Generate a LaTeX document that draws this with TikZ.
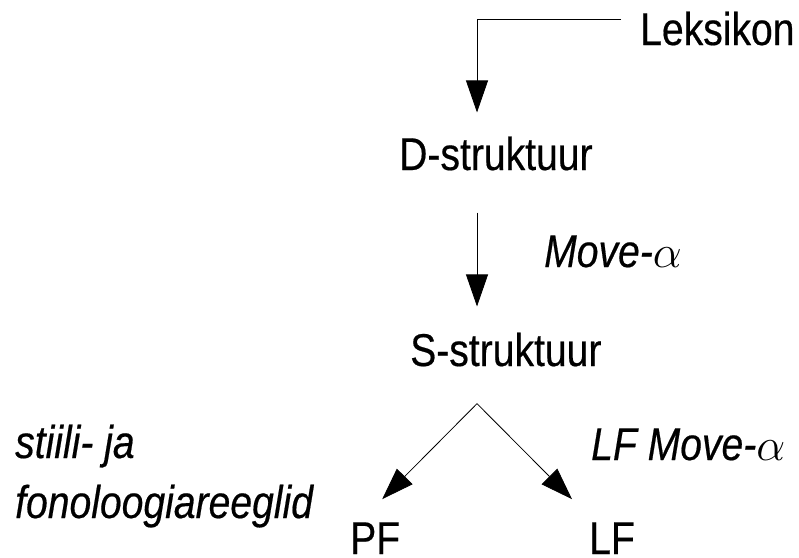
\RequirePackage{fix-cm}
\documentclass[tikz,border=0pt]{standalone}
\usepackage{fontspec}
\setmainfont{Liberation Sans}[FakeStretch=0.85,FakeBold=0.4]
\usepackage{tikz}
\usetikzlibrary{arrows.meta,calc,positioning}
\tikzset{%
	label/.style  = {inner sep=0pt, anchor=base west, font=\fontsize{46pt}{55pt}\selectfont}, % plain text
	rule/.style   = {label, font=\fontsize{46pt}{55pt}\selectfont\itshape}, % italic text
	arrow/.style  = {line width=0.8pt, -{Triangle[length=32pt,width=22pt]}},
}
\begin{document}
\begin{tikzpicture}[x=1pt,y=1pt]
	\useasboundingbox (0,0) rectangle (799,-557);
	\node [label] (lex)  at (640,-45)  {Leksikon};
	\node [label] (dstr) at (399,-170) {D-struktuur};
	\node [rule]  (mov)  at (544,-267) {Move-$\alpha$};
	\node [label] (sstr) at (410,-366) {S-struktuur};
	\node [rule]  (sti)  at (15,-458)  {stiili- ja};
	\node [rule]  (fon)  at (15,-518)  {fonoloogiareeglid};
	\node [rule]  (lfm)  at (591,-460) {LF Move-$\alpha$};
	\node [label] (pf)   at (350,-554) {PF};
	\node [label] (lf)   at (589,-554) {LF};
	
	\coordinate (spine) at (477,0);
	\coordinate (apex) at ([yshift=-37]spine |- sstr.south);
	
	\draw[arrow] ([shift={(-19,9.5)}]lex.west) -| ([yshift=24]spine |- dstr.north);
	\draw[arrow] ([yshift=-42]spine |- dstr.south) -- ([yshift=26]spine |- sstr.north);
	\draw[arrow] (apex) -- ([shift={(7,23)}]pf.north);
	\draw[arrow] (apex) -- ([shift={(-40,23)}]lf.north);
\end{tikzpicture}
\end{document}
